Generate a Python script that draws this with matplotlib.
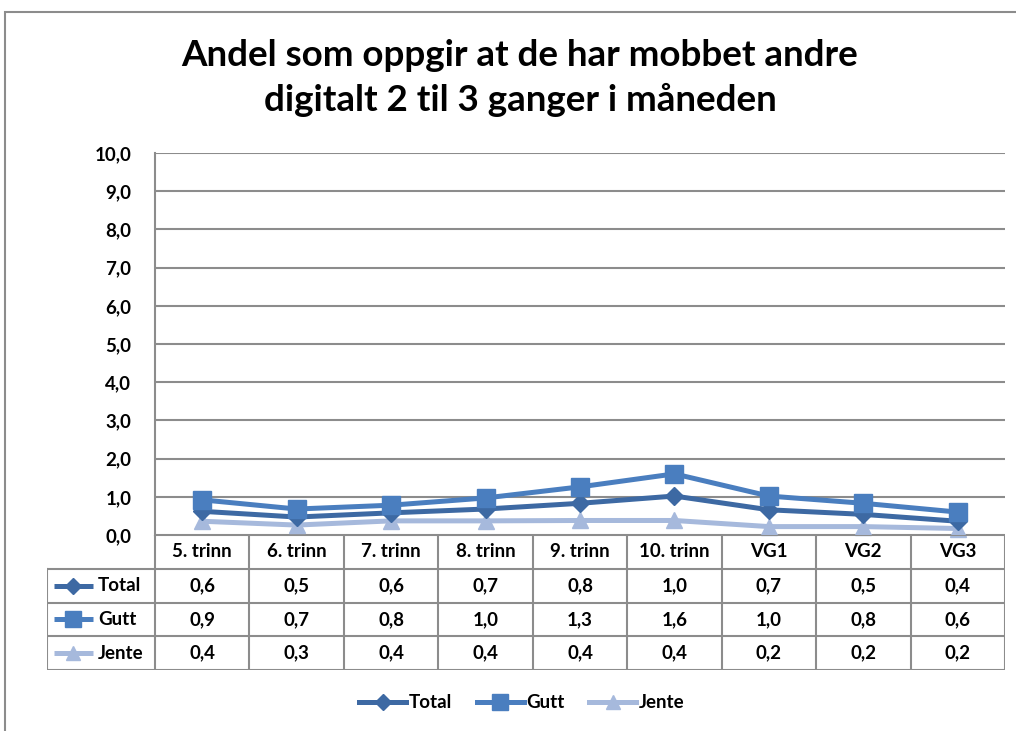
import matplotlib
matplotlib.use("Agg")
import matplotlib.pyplot as plt
from matplotlib.lines import Line2D
from matplotlib.patches import Rectangle

# Data (plotted values, table shows them rounded)
categories = ["5. trinn", "6. trinn", "7. trinn", "8. trinn", "9. trinn",
              "10. trinn", "VG1", "VG2", "VG3"]
total = [0.62, 0.47, 0.58, 0.68, 0.83, 1.02, 0.66, 0.54, 0.36]
gutt = [0.92, 0.68, 0.78, 0.97, 1.26, 1.60, 1.02, 0.83, 0.60]
jente = [0.36, 0.26, 0.37, 0.37, 0.38, 0.38, 0.22, 0.22, 0.17]
series_names = ["Total", "Gutt", "Jente"]
yticks = [0, 1, 2, 3, 4, 5, 6, 7, 8, 9, 10]

colors = {"Total": "#3D69A3", "Gutt": "#4A7EBF", "Jente": "#A6B9DC"}
markers = {"Total": ("D", 9), "Gutt": ("s", 13), "Jente": ("^", 12)}
gridc = "#8C8C8C"
FONT = "Lato"
FS = 13.5

W, H = 1016, 731
fig = plt.figure(figsize=(W / 100, H / 100), dpi=100)

def fx(px):
    return px / W

def fy(py):
    return 1 - py / H

# outer chart border
fig.add_artist(Rectangle((fx(5), fy(740)), 1.2, fy(12) - fy(740),
                         transform=fig.transFigure, fill=False,
                         edgecolor=gridc, lw=1.5))

fig.text(fx(520), fy(78), "Andel som oppgir at de har mobbet andre\ndigitalt 2 til 3 ganger i måneden",
         ha="center", va="center", fontsize=26.5, fontweight="bold",
         family=FONT, linespacing=1.38)

left, right, top, bottom = 155, 1005, 153, 535
ax = fig.add_axes([fx(left), fy(bottom), fx(right - left), fy(top) - fy(bottom)])
x = list(range(len(categories)))
data = {"Total": total, "Gutt": gutt, "Jente": jente}
for name in ["Jente", "Total", "Gutt"]:
    m, ms = markers[name]
    ax.plot(x, data[name], color=colors[name], lw=3.6, marker=m, ms=ms,
            clip_on=False, zorder=3)
ax.set_xlim(-0.5, len(categories) - 0.5)
ax.set_ylim(0, 10)
ax.set_yticks(yticks)
ax.set_yticklabels([f"{v:.1f}".replace(".", ",") for v in yticks],
                   fontsize=FS, fontweight="bold", family=FONT)
ax.tick_params(axis="y", length=0, pad=17)
ax.set_xticks([])
for v in yticks:
    ax.axhline(v, color=gridc, lw=1.5, zorder=1)
for s in ["top", "right", "bottom"]:
    ax.spines[s].set_visible(False)
ax.spines["left"].set_color(gridc)
ax.spines["left"].set_linewidth(1.5)

# data table below the plot
tleft, tbottom = 47, 670
colw = (right - left) / len(categories)
lab_w = (left - tleft) / colw
tax = fig.add_axes([fx(tleft), fy(tbottom), fx(right - tleft), fy(bottom) - fy(tbottom)])
tax.set_xlim(-0.5 - lab_w, len(categories) - 0.5)
tax.set_ylim(4, 0)
tax.axis("off")
lw = 1.5
tax.plot([-0.5, len(categories) - 0.5], [0, 0], color=gridc, lw=lw)
for r in [1, 2, 3, 4]:
    tax.plot([-0.5 - lab_w, len(categories) - 0.5], [r, r], color=gridc, lw=lw)
for c in range(len(categories) + 1):
    tax.plot([c - 0.5, c - 0.5], [0, 4], color=gridc, lw=lw)
tax.plot([-0.5 - lab_w] * 2, [1, 4], color=gridc, lw=lw)

for i, cat in enumerate(categories):
    tax.text(i, 0.5, cat, ha="center", va="center", fontsize=FS,
             fontweight="bold", family=FONT)
for r, name in enumerate(series_names, start=1):
    for i, v in enumerate(data[name]):
        tax.text(i, r + 0.5, f"{v:.1f}".replace(".", ","), ha="center",
                 va="center", fontsize=FS, fontweight="bold", family=FONT)
    m, ms = markers[name]
    x0 = -0.5 - lab_w + 0.07
    tax.plot([x0, x0 + 0.42], [r + 0.5, r + 0.5], color=colors[name], lw=3.6,
             solid_capstyle="butt")
    tax.plot([x0 + 0.21], [r + 0.5], color=colors[name], marker=m,
             ms=ms * 0.85, lw=0)
    tax.text(x0 + 0.47, r + 0.5, name, ha="left", va="center", fontsize=FS,
             fontweight="bold", family=FONT)

# legend
handles = [Line2D([0], [0], color=colors[n], lw=3.6, marker=markers[n][0],
                  ms=markers[n][1] * 0.85) for n in series_names]
fig.legend(handles, series_names, loc="center", bbox_to_anchor=(fx(522), fy(703)),
           ncol=3, frameon=False, handlelength=2.5, handletextpad=0.15,
           columnspacing=1.3, prop={"family": FONT, "weight": "bold", "size": FS})

fig.savefig("out.png", dpi=100)
